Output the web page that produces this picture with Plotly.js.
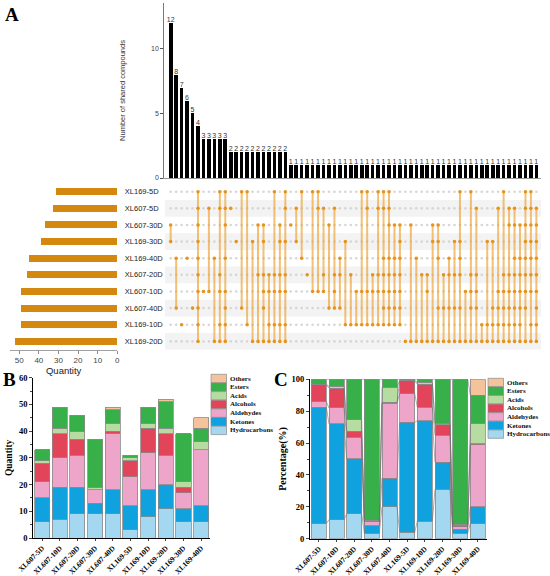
<!DOCTYPE html>
<html><head><meta charset="utf-8">
<script src="https://cdn.plot.ly/plotly-3.0.1.min.js"></script>
<style>html,body{margin:0;padding:0;background:#fff}#chart{width:550px;height:576px}</style>
</head><body><div id="chart"></div>
<script>
// ---------- Panel A data (UpSet) ----------
const setNames = ['XL169-5D','XL607-5D','XL607-30D','XL169-30D','XL169-40D','XL607-20D','XL607-10D','XL607-40D','XL169-10D','XL169-20D'];
const setSizes = [31,33,37,39,45,46,49,49,49,52];
const interCounts = [12,8,7,6,5,4,3,3,3,3,3,2,2,2,2,2,2,2,2,2,2,2,
  1,1,1,1,1,1,1,1,1,1,1,1,1,1,1,1,1,1,1,1,1,1,1,1,1,1,1,1,1,1,1,1,1,1,1,1,1,1,1,1,1,1,1,1,1,1];
// members: row numbers counted from the top (1 = XL169-5D ... 10 = XL169-20D)
const interMembers = [
  [3,4],[5,8],[9],[5],[8],[1,2,3,4,5,6,7,8,9,10],[7],[2,7],[5,10],[1,2,6,7,9,10],[1,2,3,5,7,8,9,10],
  [2],[4],[1,8],[1,9],[4,10],[3,6,10],[3,4,6,7,8,10],[6,7,9,10],[1,6,7,9,10],[3,4,6,7,9,10],[1,2,4,6,7,9,10],
  [3],[2,4],[1,5],[6],[1,7],[1,2,7],[2,6,7],[3,8],[2,6,7,8],[5,6,8],[4,9],[6,9],[7,9],[1,7,9],[1,2,7,9],
  [6,7,9],[1,2,6,7,9],[1,2,5,6,7,8,9],[1,2,3,5,6,7,8,9],[3,5,6,7,8,9],[3,4,5,6,7,8,9],[10],[3,10],[5,10],
  [6,10],[6,7,10],[3,4,10],[3,4,5,8,10],[6,8,10],[5,6,8,10],[4,6,8,10],[1,4,5,6,8,10],[7,10],[1,6,7,8,10],
  [2,6,7,8,10],[9,10],[4,9,10],[4,8,9,10],[2,7,8,9,10],[1,6,7,8,9,10],[2,3,6,7,8,9,10],[2,3,5,6,7,8,9,10],
  [3,5,6,7,8,9,10],[1,2,3,4,5,6,7,8,10],[1,2,3,4,5,6,7,9,10],[2,3,4,5,6,7,8,9,10]
];

// ---------- Panel B / C data ----------
const groups = ['XL607-5D','XL607-10D','XL607-20D','XL607-30D','XL607-40D','XL169-5D','XL169-10D','XL169-20D','XL169-30D','XL169-40D'];
const classes = ['Hydrocarbons','Ketones','Aldehydes','Alcohols','Acids','Esters','Others'];
const hydrocarbonsQty = [6,7,9,9,9,3,8,11,6,6];
const ketonesQty      = [9,12,10,4,9,9,10,9,5,6];
const aldehydesQty    = [6,11,12,5,21,11,14,11,6,21];
const alcoholsQty     = [7,9,6,0,1,6,9,8,2,0];
const acidsQty        = [1,2,3,1,3,1,2,2,2,3];
const estersQty       = [4,8,6,18,5,1,6,10,18,5];
const othersQty       = [0,0,0,0,1,0,0,1,0,4];

const hydrocarbonsPct = [9.5,12,15.5,3.5,20,4,11,31,3.5,9.5];
const ketonesPct      = [73,60,34.5,4.5,18,69,63,17,2.5,10.5];
const aldehydesPct    = [3.5,10,13.5,2.5,47,18,8.5,17,1.5,39];
const alcoholsPct     = [10.5,12.5,4,0.3,0.5,8,14.5,6.5,1,0.5];
const acidsPct        = [0.5,1,7,0.7,9.5,0.5,1,1,0.5,13];
const estersPct       = [3,4.5,25.5,88.5,5,0.5,2,27.5,91,17.5];
const othersPct       = [0,0,0,0,0,0,0,0,0,10];

const classColors = ['#A3D8F0','#10A1DF','#EDA6C9','#E2445A','#B6DCA2','#38B04A','#F4C39B'];

// ---------- helpers ----------
const W = 550, H = 576;
const X = v => v / W, Y = v => 1 - v / H;
const serif = 'Liberation Serif, Times New Roman, serif';
const sans = 'Liberation Sans, Arial, sans-serif';
const nRows = setNames.length;
const rowIdx = setNames.map((_, i) => nRows - 1 - i);
const colIdx = interCounts.map((_, i) => i);

const traces = [];

// top bars
traces.push({
  type: 'bar', x: colIdx, y: interCounts, xaxis: 'x', yaxis: 'y',
  marker: {color: '#000'}, width: 0.66,
  text: interCounts.map(String), textposition: 'outside', constraintext: 'none', cliponaxis: false,
  textfont: {family: sans, size: 7, color: '#333'}, hoverinfo: 'none'
});

// matrix background dots
const bgX = [], bgY = [];
colIdx.forEach(c => rowIdx.forEach(r => { bgX.push(c); bgY.push(r); }));
traces.push({type: 'scatter', mode: 'markers', x: bgX, y: bgY, xaxis: 'x2', yaxis: 'y2',
  marker: {color: '#D6D6D6', size: 2.6}, hoverinfo: 'none'});

// matrix lines and member dots
const lnX = [], lnY = [], dX = [], dY = [];
interMembers.forEach((m, c) => {
  const ys = m.map(r => rowIdx[r - 1]);
  ys.forEach(y => { dX.push(c); dY.push(y); });
  if (ys.length > 1) {
    lnX.push(c, c, null);
    lnY.push(Math.min(...ys), Math.max(...ys), null);
  }
});
traces.push({type: 'scatter', mode: 'lines', x: lnX, y: lnY, xaxis: 'x2', yaxis: 'y2',
  line: {color: 'rgba(236,165,60,0.7)', width: 2}, hoverinfo: 'none'});
traces.push({type: 'scatter', mode: 'markers', x: dX, y: dY, xaxis: 'x2', yaxis: 'y2',
  marker: {color: '#E8931C', size: 3.6}, hoverinfo: 'none'});

// left set size bars
traces.push({type: 'bar', orientation: 'h', x: setSizes, y: rowIdx, xaxis: 'x3', yaxis: 'y3',
  marker: {color: '#D4880F'}, width: 0.42, hoverinfo: 'none'});

// Panel B stacked bars
const qty = [hydrocarbonsQty, ketonesQty, aldehydesQty, alcoholsQty, acidsQty, estersQty, othersQty];
qty.forEach((arr, k) => traces.push({
  type: 'bar', name: classes[k], x: groups, y: arr, xaxis: 'x4', yaxis: 'y4', width: 0.85,
  marker: {color: classColors[k], line: {color: '#8a8a8a', width: 0.8}}, hoverinfo: 'none'
}));

// Panel C stacked bars
const pct = [hydrocarbonsPct, ketonesPct, aldehydesPct, alcoholsPct, acidsPct, estersPct, othersPct];
const gIdx = groups.map((_, i) => i);
pct.forEach((arr, k) => traces.push({
  type: 'bar', name: classes[k], x: gIdx, y: arr, xaxis: 'x5', yaxis: 'y5', width: 0.85,
  marker: {color: classColors[k], line: {color: '#8a8a8a', width: 0.8}}, hoverinfo: 'none'
}));
// connector lines between adjacent bars (cumulative boundaries)
const cX = [], cY = [];
const cum = gIdx.map(() => 0);
pct.slice(0, 6).forEach(arr => {
  arr.forEach((v, i) => { cum[i] += v; });
  for (let i = 0; i < gIdx.length - 1; i++) {
    cX.push(gIdx[i] + 0.425, gIdx[i + 1] - 0.425, null);
    cY.push(cum[i], cum[i + 1], null);
  }
});
traces.push({type: 'scatter', mode: 'lines', x: cX, y: cY, xaxis: 'x5', yaxis: 'y5',
  line: {color: 'rgba(110,110,110,0.8)', width: 0.7}, hoverinfo: 'none'});

// ---------- shapes ----------
const shapes = [];
rowIdx.forEach((r, i) => {
  if (i % 2 === 1) shapes.push({type: 'rect', xref: 'paper', yref: 'y2', x0: X(165), x1: X(541),
    y0: r - 0.5, y1: r + 0.5, fillcolor: '#F3F3F3', line: {width: 0}, layer: 'below'});
});

// manual legends
const annotations = [];
function legend(boxX, textX, topY, step) {
  const order = classes.map((_, i) => i).reverse();
  order.forEach((k, j) => {
    const cy = topY + j * step;
    shapes.push({type: 'rect', xref: 'paper', yref: 'paper', x0: X(boxX), x1: X(boxX + 15.5),
      y0: Y(cy + 4.2), y1: Y(cy - 4.2), fillcolor: classColors[k], line: {color: '#8a8a8a', width: 0.7}});
    annotations.push({xref: 'paper', yref: 'paper', x: X(textX), y: Y(cy), xanchor: 'left', yanchor: 'middle',
      text: classes[k], showarrow: false, font: {family: serif, size: 7, weight: 'bold', color: '#111'}});
  });
}
legend(211, 227.5, 378.5, 8.65);
legend(488, 504.5, 382.5, 8.6);

// panel letters
[['A', 12, 15], ['B', 9, 379], ['C', 281, 379]].forEach(([t, x, y]) => annotations.push({
  xref: 'paper', yref: 'paper', x: X(x), y: Y(y), xanchor: 'center', yanchor: 'middle', text: t, showarrow: false,
  font: {family: serif, size: 19, weight: 'bold', color: '#000'}}));

const xTick = {family: serif, size: 7.4, weight: 'bold', color: '#000'};
const yTick = {family: serif, size: 8.5, weight: 'bold', color: '#000'};
const layout = {
  width: W, height: H, margin: {l: 0, r: 0, t: 0, b: 0}, showlegend: false,
  paper_bgcolor: '#fff', plot_bgcolor: 'rgba(0,0,0,0)', barmode: 'stack',
  xaxis: {domain: [X(164), X(541)], range: [-1.23, 67.85], anchor: 'y', showline: true, linecolor: '#9a9a9a',
    linewidth: 1, showticklabels: false, ticks: '', showgrid: false, zeroline: false, fixedrange: true},
  yaxis: {domain: [Y(178), Y(3)], range: [0, 13.56], anchor: 'x', showline: true, linecolor: '#555', linewidth: 0.8,
    ticks: 'outside', ticklen: 3, tickcolor: '#555', tickvals: [0, 5, 10], tickfont: {family: sans, size: 7, color: '#444'},
    title: {text: 'Number of shared compounds', font: {family: sans, size: 7.5, color: '#333'}, standoff: 24},
    showgrid: false, zeroline: false},
  xaxis2: {domain: [X(164), X(541)], range: [-1.23, 67.85], anchor: 'y2', visible: false},
  yaxis2: {domain: [Y(349.7), Y(183.4)], range: [-0.5, 9.5], anchor: 'x2', visible: false},
  xaxis3: {domain: [X(10), X(117.3)], range: [54.7, 0], anchor: 'y3', showline: true, linecolor: '#888', linewidth: 0.8,
    ticks: 'outside', ticklen: 3, tickcolor: '#888', tickvals: [0, 10, 20, 30, 40, 50],
    tickfont: {family: sans, size: 8, color: '#444'}, showgrid: false, zeroline: false,
    title: {text: 'Quantity', font: {family: sans, size: 9.5, color: '#222'}, standoff: 1}},
  yaxis3: {domain: [Y(349.7), Y(183.4)], range: [-0.5, 9.5], anchor: 'x3', side: 'right',
    tickvals: rowIdx, ticktext: setNames, ticks: 'outside', ticklen: 5, tickcolor: 'rgba(0,0,0,0)',
    tickfont: {family: sans, size: 7.5, color: '#222'}, showline: false, showgrid: false, zeroline: false},
  xaxis4: {domain: [X(33.3), X(210)], anchor: 'y4', type: 'category', showline: true, linecolor: '#000', linewidth: 1,
    ticks: 'outside', ticklen: 2, tickangle: -45, tickfont: xTick, showgrid: false, zeroline: false},
  yaxis4: {domain: [Y(538), Y(377.7)], range: [0, 60], dtick: 10, anchor: 'x4', showline: true, linecolor: '#000',
    linewidth: 1, ticks: 'outside', ticklen: 3, tickfont: yTick, showgrid: false, zeroline: false,
    minor: {ticks: 'outside', ticklen: 2, dtick: 5},
    title: {text: 'Quantity', font: {family: serif, size: 9.5, weight: 'bold', color: '#000'}, standoff: 4}},
  xaxis5: {domain: [X(310), X(486.7)], range: [-0.5, 9.5], anchor: 'y5', tickvals: gIdx, ticktext: groups,
    showline: true, linecolor: '#000', linewidth: 1, ticks: 'outside', ticklen: 2, tickangle: -45, tickfont: xTick,
    showgrid: false, zeroline: false},
  yaxis5: {domain: [Y(538.7), Y(379.3)], range: [0, 100], dtick: 20, anchor: 'x5', showline: true, linecolor: '#000',
    linewidth: 1, ticks: 'outside', ticklen: 3, tickfont: yTick, showgrid: false, zeroline: false,
    minor: {ticks: 'outside', ticklen: 2, dtick: 10},
    title: {text: 'Percentage(%)', font: {family: serif, size: 10, weight: 'bold', color: '#000'}, standoff: 3}},
  shapes: shapes, annotations: annotations
};
Plotly.newPlot('chart', traces, layout, {staticPlot: true, displayModeBar: false});
</script></body></html>
